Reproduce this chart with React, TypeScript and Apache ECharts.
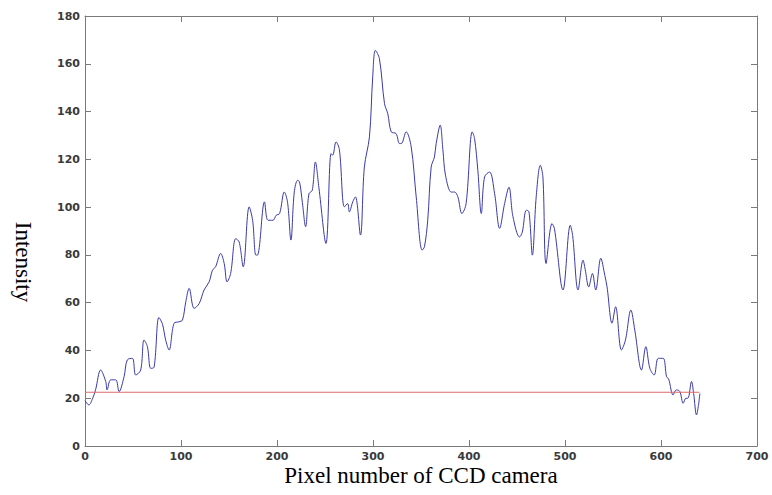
import React, { useEffect, useRef } from "react";
import * as echarts from "echarts";

const pixelX: number[] = [
  0, 4, 8, 11, 16.3, 21.6, 23, 26.8, 32, 35.5, 40.7, 44, 49.4, 52.8, 58, 61.5, 65, 68.5, 72, 77, 80.7, 84, 87.6,
  92.8, 98, 101.5, 105, 108.5, 113.7, 119, 124, 129.3, 132.8, 136, 141.3, 145, 148, 151.7, 157, 160.6, 164.8,
  171, 174.6, 178, 180, 187, 190.6, 195.8, 199.2, 202.7, 207.6, 211, 214.5, 218, 221.5, 223.5, 226.4, 229.8,
  233.3, 236.7, 240, 243.6,
  251, 256.3, 258, 261.5, 265, 270.2, 273.6, 275.4, 278.9, 281.7, 286.9, 291, 296.3, 299.7, 302.5, 306.7,
  312, 315.4, 319, 324, 327.6, 329.5, 334.5, 339.8, 345, 351.2, 353.6, 357, 360.6, 364, 365.8, 370, 372.8,
  375.5, 381.5, 385, 388.4, 392.6, 397, 403.4, 405.8, 409.2, 412.8, 416.2, 421.4, 426.7, 431.9, 437.1, 441.6,
  445.8, 452.7, 455.5, 459.7, 462.5, 466, 470, 474.3, 477, 480.3, 486.5, 489, 497.9, 505.5, 508, 513.6, 518.8,
  521, 524.7, 528.6, 532, 537.3, 541.5, 543.8, 549, 552.7, 558.8, 563, 568.6, 572.7, 579.7, 584.2, 588.4,
  592.9, 597.1, 602.3, 605.8, 608, 612.6, 616, 619.6, 623.1, 626, 628, 631.8, 634, 637, 639, 640.5,
];

const intensity: number[] = [
  19, 17.2, 20, 23.5, 31.8, 27, 23.5, 27.7, 27.7, 22.8, 29, 36, 36.7, 29.7, 31.8, 44.4, 41.6, 32.5, 33, 53.8,
  51, 44.4, 40.2, 51.4, 52, 52.7, 60.4, 66, 57.6, 59.7, 65.3, 68.7, 73.6, 75, 80.6, 76.4, 68.7, 72.2, 86.8,
  85.4, 75, 100.1, 94.5, 79.9, 80, 102.2, 94.5, 94.5, 96.6, 97.3, 106.3, 102, 86.2, 106.3, 111.2, 110.5, 102,
  91.8, 105.6, 107, 118.9, 108.3,
  84.8, 122.4, 121.7, 127.3, 124, 100.1, 101.5, 98, 102.2, 104.3, 88.3, 116.8, 129.4, 154.5, 165.6, 162.1,
  143.3, 139.1, 131.5, 130.8, 126.6, 126.6, 131.5, 125.2, 104.3, 82, 83.4, 94.5, 116.8, 121, 126.6, 134.3, 124,
  113.4, 106.3, 106.3, 104.3, 97.3, 101.5, 131.5, 128.7, 115.4, 97.3, 112.6, 114.7, 105.6, 91.1, 101.5, 108.3,
  96, 87.5, 89.5, 98.7, 98, 79.9, 104.3, 117.5, 112.6, 76.4, 93.1, 91, 65.3, 92.4, 88, 65.3, 77.8,
  74, 66.6, 72.2, 65.3, 78.6, 71.4, 66.6, 51.4, 58.3, 40.2, 44.4, 56.9, 48.5, 31.8, 41.6, 32.5,
  29.7, 36.7, 36.7, 29, 28, 21.4, 23.5, 22.8, 17.9, 20, 20, 27, 22, 13, 17, 22,
];

const thresholdX: number[] = [0, 640];
const thresholdY: number[] = [22.5, 22.5];

const xTicks = { min: 0, max: 700, interval: 100 };
const yTicks = { min: 0, max: 180, interval: 20 };

export default function App() {
  const ref = useRef<HTMLDivElement>(null);

  useEffect(() => {
    if (!ref.current) return;
    const chart = echarts.init(ref.current, null, { renderer: "svg" });
    const axisLine = { show: true, onZero: false, lineStyle: { color: "#7a7a7a", width: 1 } };
    const tick = { show: true, inside: true, length: 6, lineStyle: { color: "#7a7a7a" } };
    const label = { color: "#3a3a3a", fontSize: 11, fontWeight: "bold", fontFamily: "DejaVu Sans", margin: 5 };
    const mainData = pixelX.map((x, i) => [x, intensity[i]]);
    const redData = thresholdX.map((x, i) => [x, thresholdY[i]]);
    chart.setOption({
      animation: false,
      backgroundColor: "#ffffff",
      grid: { left: 85, right: 15, top: 16, bottom: 49, containLabel: false },
      xAxis: [
        { type: "value", position: "bottom", ...xTicks, axisLine, axisTick: tick, axisLabel: label, splitLine: { show: false } },
        { type: "value", position: "top", ...xTicks, axisLine, axisTick: tick, axisLabel: { show: false }, splitLine: { show: false } },
      ],
      yAxis: [
        { type: "value", position: "left", ...yTicks, axisLine, axisTick: tick, axisLabel: label, splitLine: { show: false } },
        { type: "value", position: "right", ...yTicks, axisLine, axisTick: tick, axisLabel: { show: false }, splitLine: { show: false } },
      ],
      series: [
        {
          type: "line",
          data: mainData,
          xAxisIndex: 0,
          yAxisIndex: 0,
          showSymbol: false,
          smooth: 0.35,
          lineStyle: { color: "#3a3aa8", width: 1 },
        },
        {
          type: "line",
          data: redData,
          xAxisIndex: 0,
          yAxisIndex: 0,
          showSymbol: false,
          lineStyle: { color: "#e06a6a", width: 1 },
        },
      ],
      graphic: [
        {
          type: "text",
          x: 421,
          y: 475.5,
          style: {
            text: "Pixel number of CCD camera",
            fontFamily: "Liberation Serif",
            fontSize: 23,
            lineHeight: 18,
            fill: "#000",
            textAlign: "center",
            textVerticalAlign: "middle",
          },
        },
        {
          type: "text",
          x: 23,
          y: 262,
          rotation: -Math.PI / 2,
          style: {
            text: "Intensity",
            fontFamily: "Liberation Serif",
            fontSize: 23,
            fill: "#000",
            textAlign: "center",
            textVerticalAlign: "middle",
          },
        },
      ],
    });
    return () => chart.dispose();
  }, []);

  return (
    <div
      ref={ref}
      style={{ position: "fixed", left: 0, top: 0, width: 772, height: 495, background: "#fff" }}
    />
  );
}
